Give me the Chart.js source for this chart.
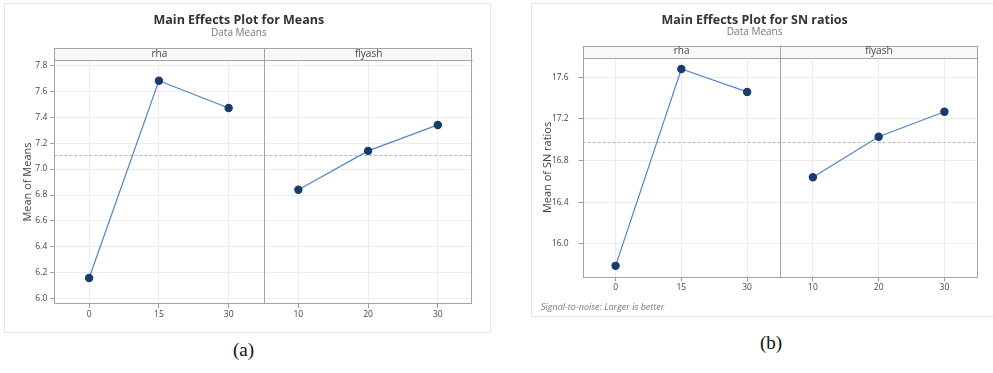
<!DOCTYPE html>
<html>
<head>
<meta charset="utf-8">
<script src="https://cdn.jsdelivr.net/npm/chart.js@4.4.1/dist/chart.umd.min.js"></script>
<style>
  html, body { margin: 0; padding: 0; background: #fff; }
  body { width: 993px; height: 373px; position: relative; overflow: hidden; font-family: "Open Sans", sans-serif; }
  .fig { position: absolute; outline: 1px solid #e4e4e4; }
  .fig canvas { position: absolute; left: 0; top: 0; }
  .note { position: absolute; font-style: italic; font-size: 9px; color: #7a7a7a; white-space: nowrap; }
  .cap { position: absolute; font-family: "Liberation Serif", "Times New Roman", serif; font-size: 19px; color: #111; }
</style>
</head>
<body>
<div class="fig" style="left:5px;top:4px;width:485px;height:328px;">
  <canvas id="chartA" width="485" height="328"></canvas>
</div>
<div class="fig" style="left:532px;top:4px;width:461px;height:312px;">
  <canvas id="chartB" width="461" height="312"></canvas>
  <span class="note" style="left:9px;top:296px;">Signal-to-noise: Larger is better</span>
</div>
<span class="cap" style="left:233px;top:339px;">(a)</span>
<span class="cap" style="left:760px;top:332px;">(b)</span>

<script>
// factor levels (x tick labels, rha panel then flyash panel)
var factors = ["rha", "flyash"];
var xLabels = ["0", "15", "30", "10", "20", "30"];

// (a) Mean of Means
var meansRha = [6.16, 7.68, 7.47];
var meansFlyash = [6.84, 7.14, 7.34];
var meansTicks = [6.0, 7.8, 0.2];   // first, last, step

// (b) Mean of SN ratios
var snRha = [15.79, 17.68, 17.46];
var snFlyash = [16.64, 17.03, 17.27];
var snTicks = [16.0, 17.6, 0.4];

Chart.defaults.font.family = "'Open Sans', sans-serif";
Chart.defaults.color = "#444";

// strip header, panel divider, frame and grand-mean reference line
var panelPlugin = {
  id: "panels",
  beforeDatasetsDraw: function (chart, args, opts) {
    var ctx = chart.ctx, a = chart.chartArea;
    var x = chart.scales.x, y = chart.scales.y;
    var split = Math.round((x.getPixelForValue(2) + x.getPixelForValue(3)) / 2) + 0.5;
    var stripTop = a.top - opts.stripHeight;
    ctx.save();

    var my = Math.round(y.getPixelForValue(opts.mean)) + 0.5;
    ctx.strokeStyle = "#b5b5b5";
    ctx.lineWidth = 1;
    ctx.setLineDash([3, 2]);
    ctx.beginPath(); ctx.moveTo(a.left, my); ctx.lineTo(a.right, my); ctx.stroke();
    ctx.setLineDash([]);

    ctx.fillStyle = "#f8f8f8";
    ctx.fillRect(a.left, stripTop, a.right - a.left, opts.stripHeight);
    ctx.strokeStyle = "#a3a3a3";
    ctx.strokeRect(Math.round(a.left) + 0.5, Math.round(stripTop) + 0.5,
      Math.round(a.right - a.left) - 1, Math.round(a.bottom - stripTop) - 1);
    ctx.beginPath();
    ctx.moveTo(a.left, Math.round(a.top) + 0.5); ctx.lineTo(a.right, Math.round(a.top) + 0.5);
    ctx.moveTo(split, stripTop); ctx.lineTo(split, a.bottom);
    ctx.stroke();

    ctx.fillStyle = "#444";
    ctx.font = "10px 'Open Sans', sans-serif";
    ctx.textAlign = "center";
    ctx.textBaseline = "middle";
    var cy = stripTop + opts.stripHeight / 2;
    ctx.fillText(factors[0], (a.left + split) / 2, cy);
    ctx.fillText(factors[1], (split + a.right) / 2, cy);
    ctx.restore();
  }
};

function grandMean(a, b) {
  var all = a.concat(b), s = 0;
  for (var i = 0; i < all.length; i++) s += all[i];
  return s / all.length;
}

function drawPlot(id, cfg) {
  var pad = [null, null, null];
  new Chart(document.getElementById(id).getContext("2d"), {
    type: "line",
    data: {
      labels: xLabels,
      datasets: [
        { label: factors[0], data: cfg.rha.concat(pad) },
        { label: factors[1], data: pad.concat(cfg.flyash) }
      ].map(function (d) {
        d.borderColor = "#4f86c6";
        d.borderWidth = 1.2;
        d.pointRadius = 3.6;
        d.pointBackgroundColor = "#173d6e";
        d.pointBorderColor = "#173d6e";
        d.spanGaps = false;
        d.tension = 0;
        return d;
      })
    },
    plugins: [panelPlugin],
    options: {
      responsive: false,
      animation: false,
      layout: { padding: { top: 0, right: cfg.padRight, bottom: cfg.padBottom, left: 0 } },
      plugins: {
        legend: { display: false },
        tooltip: { enabled: false },
        title: {
          display: true, text: cfg.title, color: "#333",
          font: { size: 12.5, weight: "bold", lineHeight: 1 },
          padding: { top: cfg.titleTop, bottom: 1 }
        },
        subtitle: {
          display: true, text: "Data Means", color: "#777",
          font: { size: 10, lineHeight: 1 },
          padding: { top: 0, bottom: cfg.subBottom }
        },
        panels: { stripHeight: 12, mean: grandMean(cfg.rha, cfg.flyash) }
      },
      scales: {
        x: {
          type: "category",
          offset: true,
          grid: { offset: false, color: "#ececec", tickColor: "#9a9a9a", tickLength: 4 },
          border: { display: false },
          ticks: { padding: 1, font: { size: 8.5 }, color: "#444", maxRotation: 0 },
          afterFit: function (s) { s.height = cfg.xHeight; }
        },
        y: {
          min: cfg.yMin, max: cfg.yMax,
          grid: { color: "#ececec", tickColor: "#9a9a9a", tickLength: 4 },
          border: { display: false },
          ticks: {
            stepSize: cfg.ticks[2], includeBounds: false, padding: cfg.tickPad,
            font: { size: 8.5 }, color: "#444",
            callback: function (v) { return v.toFixed(1); }
          },
          title: {
            display: true, text: cfg.yTitle, color: "#444",
            font: { size: 11, lineHeight: 1.2 },
            padding: { top: cfg.yTitlePad, bottom: 0 }
          },
          afterFit: function (s) { s.width = cfg.yWidth; }
        }
      }
    }
  });
}

drawPlot("chartA", {
  title: "Main Effects Plot for Means", yTitle: "Mean of Means",
  rha: meansRha, flyash: meansFlyash, ticks: meansTicks,
  yMin: 5.96, yMax: 7.84,
  titleTop: 10.25, subBottom: 22.3,
  yWidth: 49.3, yTitlePad: 16, tickPad: 3,
  xHeight: 28, padRight: 17.3, padBottom: 0
});

drawPlot("chartB", {
  title: "Main Effects Plot for SN ratios", yTitle: "Mean of SN ratios",
  rha: snRha, flyash: snFlyash, ticks: snTicks,
  yMin: 15.68, yMax: 17.79,
  titleTop: 9.75, subBottom: 20.3,
  yWidth: 50.7, yTitlePad: 9, tickPad: 10,
  xHeight: 20, padRight: 15.7, padBottom: 18.7
});
</script>
</body>
</html>
